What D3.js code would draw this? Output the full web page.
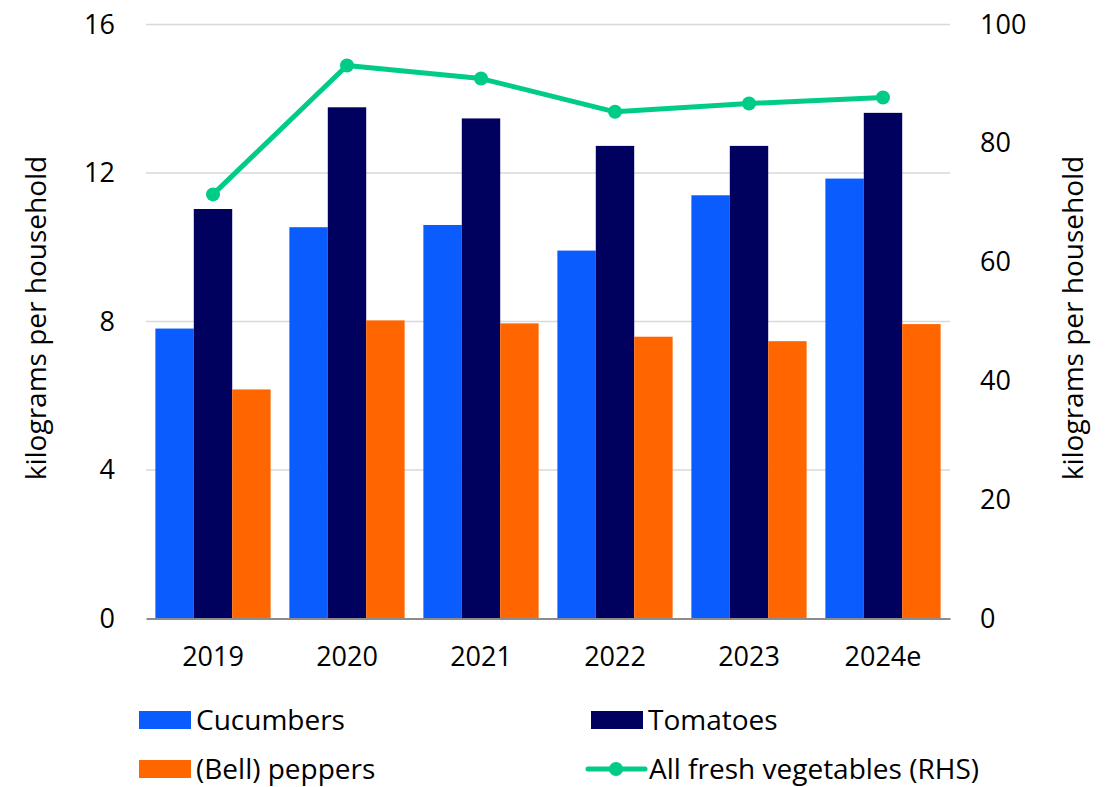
<!DOCTYPE html>
<html>
<head>
<meta charset="utf-8">
<script src="https://cdn.jsdelivr.net/npm/d3@7"></script>
<style>
  html, body { margin: 0; padding: 0; background: #fff; }
  svg { display: block; font-family: "Open Sans", "Noto Sans", sans-serif; }
</style>
</head>
<body>
<svg id="chart" width="1109" height="787"></svg>
<script>
// Household purchases, kilograms per household
const years = ["2019", "2020", "2021", "2022", "2023", "2024e"];
const cucumbers = [7.81, 10.54, 10.60, 9.91, 11.40, 11.85];
const tomatoes = [11.03, 13.77, 13.47, 12.73, 12.73, 13.62];
const peppers = [6.17, 8.03, 7.95, 7.59, 7.47, 7.93];
const allVegetables = [71.4, 93.1, 90.9, 85.3, 86.7, 87.7];

const leftTicks = [0, 4, 8, 12, 16];
const rightTicks = [0, 20, 40, 60, 80, 100];

const barSeries = [
  { name: "Cucumbers", values: cucumbers, color: "#0A5CFF" },
  { name: "Tomatoes", values: tomatoes, color: "#00005F" },
  { name: "(Bell) peppers", values: peppers, color: "#FF6600" }
];
const lineColor = "#00CC88";

const svg = d3.select("#chart");
const plot = { left: 146, right: 950, top: 24.5, bottom: 618.5 };

const x = d3.scaleBand().domain(years).range([plot.left, plot.right]).paddingInner(0.14).paddingOuter(0.07);
const xSub = d3.scaleBand().domain(barSeries.map(s => s.name)).range([0, x.bandwidth()]);
const yL = d3.scaleLinear().domain([0, 16]).range([plot.bottom, plot.top]);
const yR = d3.scaleLinear().domain([0, 100]).range([plot.bottom, plot.top]);

// gridlines
svg.append("g")
  .selectAll("line")
  .data(leftTicks.filter(t => t > 0))
  .join("line")
  .attr("x1", plot.left).attr("x2", plot.right)
  .attr("y1", d => yL(d)).attr("y2", d => yL(d))
  .attr("stroke", "#d9d9d9").attr("stroke-width", 1.5);

// left axis
const leftAxis = svg.append("g")
  .attr("transform", `translate(${plot.left},0)`)
  .call(d3.axisLeft(yL).tickValues(leftTicks).tickSize(0).tickPadding(31));
leftAxis.select(".domain").remove();
leftAxis.selectAll("text").attr("font-size", 27).attr("fill", "#000").attr("font-family", "Open Sans");

// right axis
const rightAxis = svg.append("g")
  .attr("transform", `translate(${plot.right},0)`)
  .call(d3.axisRight(yR).tickValues(rightTicks).tickSize(0).tickPadding(30));
rightAxis.select(".domain").remove();
rightAxis.selectAll("text").attr("font-size", 27).attr("fill", "#000").attr("font-family", "Open Sans");

// bars
const groups = svg.append("g")
  .selectAll("g")
  .data(years)
  .join("g")
  .attr("transform", d => `translate(${x(d)},0)`);

groups.selectAll("rect")
  .data((d, i) => barSeries.map(s => ({ name: s.name, value: s.values[i], color: s.color })))
  .join("rect")
  .attr("x", d => xSub(d.name))
  .attr("width", xSub.bandwidth())
  .attr("y", d => yL(d.value))
  .attr("height", d => yL(0) - yL(d.value))
  .attr("fill", d => d.color);

// baseline + x axis labels
const bottomAxis = svg.append("g")
  .attr("transform", `translate(0,${plot.bottom})`)
  .call(d3.axisBottom(x).tickSize(0).tickPadding(28));
bottomAxis.select(".domain").attr("stroke", "#8c8c8c").attr("stroke-width", 2);
bottomAxis.selectAll("text").attr("font-size", 27).attr("fill", "#000").attr("font-family", "Open Sans");

// line on the right-hand scale
const cx = d => x(d) + x.bandwidth() / 2;
const line = d3.line().x((d, i) => cx(years[i])).y(d => yR(d));
svg.append("path")
  .datum(allVegetables)
  .attr("d", line)
  .attr("fill", "none")
  .attr("stroke", lineColor)
  .attr("stroke-width", 5)
  .attr("stroke-linejoin", "round");
svg.append("g")
  .selectAll("circle")
  .data(allVegetables)
  .join("circle")
  .attr("cx", (d, i) => cx(years[i]))
  .attr("cy", d => yR(d))
  .attr("r", 7)
  .attr("fill", lineColor);

// axis titles
svg.append("text")
  .attr("transform", `translate(46,318) rotate(-90)`)
  .attr("text-anchor", "middle")
  .attr("font-size", 28)
  .text("kilograms per household");
svg.append("text")
  .attr("transform", `translate(1083,318) rotate(-90)`)
  .attr("text-anchor", "middle")
  .attr("font-size", 28)
  .text("kilograms per household");

// legend
const legendItems = [
  { name: "Cucumbers", type: "bar", color: barSeries[0].color, x: 139, y: 720 },
  { name: "Tomatoes", type: "bar", color: barSeries[1].color, x: 591, y: 720 },
  { name: "(Bell) peppers", type: "bar", color: barSeries[2].color, x: 139, y: 769 },
  { name: "All fresh vegetables (RHS)", type: "line", color: lineColor, x: 588, y: 769 }
];
const leg = svg.append("g")
  .selectAll("g")
  .data(legendItems)
  .join("g")
  .attr("transform", d => `translate(${d.x},${d.y})`);
leg.filter(d => d.type === "bar").append("rect")
  .attr("x", 0).attr("y", -9).attr("width", 52).attr("height", 18)
  .attr("fill", d => d.color);
leg.filter(d => d.type === "line").append("line")
  .attr("x1", 0).attr("x2", 57).attr("y1", 0).attr("y2", 0)
  .attr("stroke", d => d.color).attr("stroke-width", 5).attr("stroke-linecap", "round");
leg.filter(d => d.type === "line").append("circle")
  .attr("cx", 28).attr("cy", 0).attr("r", 7).attr("fill", d => d.color);
leg.append("text")
  .attr("x", d => d.type === "line" ? 61 : 57)
  .attr("y", 0)
  .attr("dy", "0.35em")
  .attr("font-size", 28)
  .text(d => d.name);
</script>
</body>
</html>
